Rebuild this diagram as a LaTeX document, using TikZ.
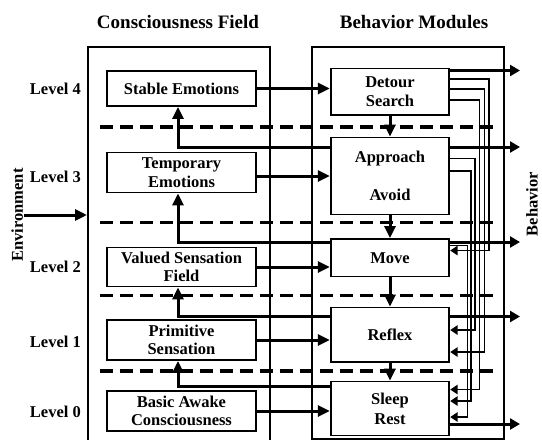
\documentclass[tikz,border=0pt]{standalone}
\usepackage{fontspec}
\setmainfont{Liberation Serif}
\usetikzlibrary{arrows.meta}
\tikzset{
  box/.style={draw, line width=1.9pt, fill=white, inner sep=0pt, align=center,
    font=\fontsize{16.5}{18.5}\selectfont\bfseries},
  bigbox/.style={draw, line width=2pt, inner sep=0pt},
  marr/.style={line width=3pt, -{Triangle[length=12pt,width=11pt]}},
  outarr/.style={line width=3pt, -{Triangle[length=10pt,width=11pt]}},
  inh/.style={line width=1.6pt, -{Triangle[length=7.5pt,width=9.5pt]}},
  sepline/.style={line width=3.8pt, dash pattern=on 13pt off 7pt},
  lbl/.style={font=\fontsize{16.5}{18.5}\selectfont\bfseries, inner sep=0pt},
  ttl/.style={font=\fontsize{19}{21}\selectfont\bfseries, inner sep=0pt},
}
\begin{document}
\begin{tikzpicture}[x=1pt,y=-1pt]
\useasboundingbox (0,0) rectangle (542,440);
\clip (0,0) rectangle (542,440);

% big frames
\node[bigbox, minimum width=182pt, minimum height=394pt] (LB) at (179,244) {};
\node[bigbox, minimum width=192pt, minimum height=391.5pt] (RB) at (408,242.75) {};

% titles
\node[ttl, anchor=base] (t1) at (178,28) {Consciousness Field};
\node[ttl, anchor=base] (t2) at (414,28) {Behavior Modules};

% separators
\draw[sepline] (100,127) -- (496,127);
\draw[sepline] (100,222.5) -- (496,222.5);
\draw[sepline] (100,295.5) -- (496,295.5);
\draw[sepline] (100,371) -- (496,371);

% left column
\node[box, minimum width=149pt, minimum height=35pt] (SE) at (181.5,88.5) {Stable Emotions};
\node[box, minimum width=149pt, minimum height=40pt] (TE) at (181.5,172.5) {Temporary\\Emotions};
\node[box, minimum width=149pt, minimum height=39pt] (VS) at (181.5,267) {Valued Sensation\\Field};
\node[box, minimum width=149pt, minimum height=40pt] (PS) at (181.5,340) {Primitive\\Sensation};
\node[box, minimum width=149pt, minimum height=40pt] (BA) at (181.5,411) {Basic Awake\\Consciousness};

% right column
\node[box, minimum width=118.5pt, minimum height=46.5pt] (DS) at (390,91.75) {Detour\\[0.5pt]Search};
\node[box, minimum width=118.5pt, minimum height=77pt] (AA) at (390,176) {Approach\\[19pt]Avoid};
\node[box, minimum width=118.5pt, minimum height=37.5pt] (MV) at (390,257.75) {Move};
\node[box, minimum width=118.5pt, minimum height=54.5pt] (RF) at (390,334.75) {Reflex};
\node[box, minimum width=118.5pt, minimum height=54pt] (SR) at (390,408.5) {Sleep\\[1.5pt]Rest};

% level labels
\node[lbl, anchor=east] (L4) at (81,89) {Level 4};
\node[lbl, anchor=east] (L3) at (81,177) {Level 3};
\node[lbl, anchor=east] (L2) at (81,267) {Level 2};
\node[lbl, anchor=east] (L1) at (81,341.5) {Level 1};
\node[lbl, anchor=east] (L0) at (81,412) {Level 0};

% side labels
\node[lbl, rotate=90, anchor=base] (env) at (23,215) {Environment};
\node[lbl, rotate=90, anchor=base] (beh) at (537.5,204) {Behavior};

% environment input
\coordinate (envs) at (24,215);
\draw[marr] (envs) -- (LB.west |- envs);

% level arrows
\draw[marr] (SE.east) -- (SE.east -| DS.west);
\draw[marr] (TE.east |- AA.west) -- (AA.west);
\draw[marr] (VS.east) -- (VS.east -| MV.west);
\draw[marr] (PS.east) -- (PS.east -| RF.west);
\draw[marr] (BA.east) -- (BA.east -| SR.west);

% down arrows
\draw[marr] (DS.south) -- (AA.north);
\draw[marr] (AA.south) -- (MV.north);
\draw[marr] (MV.south) -- (RF.north);
\draw[marr] (RF.south) -- (SR.north);

% outputs
\coordinate (o1) at (520,70.5);
\coordinate (o2) at (520,147);
\coordinate (o3) at (520,242);
\coordinate (o4) at (520,316.5);
\coordinate (o5) at (520,424);
\draw[outarr] (DS.east |- o1) -- (o1);
\draw[outarr] (AA.east |- o2) -- (o2);
\draw[outarr] (MV.east |- o3) -- (o3);
\draw[outarr] (RF.east |- o4) -- (o4);
\draw[outarr] (SR.east |- o5) -- (o5);

% feedback to consciousness field
\coordinate (f4) at (0,386);
\draw[marr] (AA.west |- o2) -| ([xshift=-3.5pt]SE.south);
\draw[marr] (MV.west |- o3) -| ([xshift=-3.5pt]TE.south);
\draw[marr] (RF.west |- o4) -| ([xshift=-3.5pt]VS.south);
\draw[marr] (SR.west |- f4) -| ([xshift=-3.5pt]PS.south);

% inhibition lines
\draw[inh] (DS.east |- 0,79) -| (489,250.5) -- (MV.east |- 0,250.5);
\draw[inh] (DS.east |- 0,89) -| (484.5,352) -- (RF.east |- 0,352);
\draw[inh] (DS.east |- 0,100) -| (479.5,389.5) -- (SR.east |- 0,389.5);
\draw[inh] (AA.east |- 0,158.5) -| (475,330) -- (RF.east |- 0,330);
\draw[inh] (AA.east |- 0,171) -| (471,401) -- (SR.east |- 0,401);
\draw[inh] (MV.east |- 0,245.5) -| (467.5,417) -- (SR.east |- 0,417);
\end{tikzpicture}
\end{document}
